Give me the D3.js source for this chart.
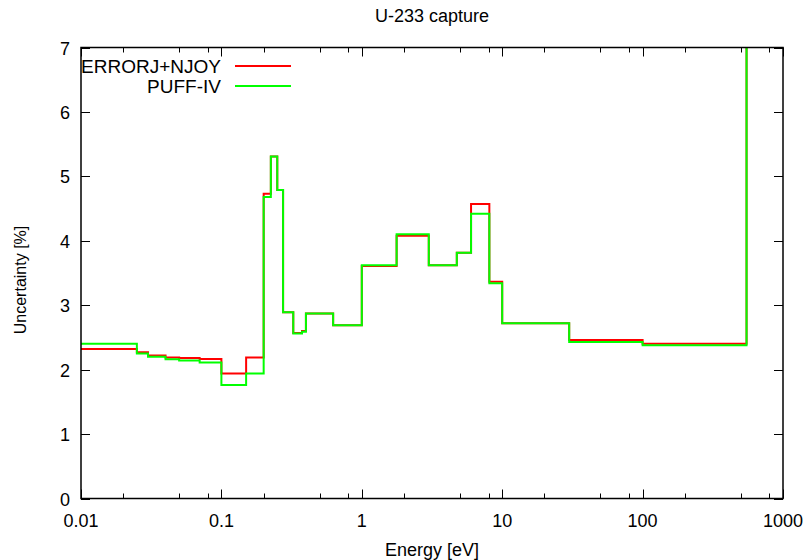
<!DOCTYPE html>
<html>
<head>
<meta charset="utf-8">
<script src="https://d3js.org/d3.v7.min.js"></script>
<style>
  body { margin: 0; background: #fff; }
  svg { font-family: "Liberation Sans", Arial, sans-serif; }
</style>
</head>
<body>
<svg id="chart1" width="809" height="560"></svg>
<script>
  // group boundaries (eV) and uncertainties (%) per group
  var energyBounds = [0.01, 0.025, 0.03, 0.04, 0.05, 0.07, 0.1, 0.15, 0.2, 0.225, 0.25, 0.275,
                      0.325, 0.375, 0.4, 0.625, 1.0, 1.77, 3.0, 4.75, 6.0, 8.1, 10, 30, 100, 550, 1000];
  var errorjNjoy = [2.32, 2.27, 2.22, 2.19, 2.18, 2.165, 1.94, 2.19, 4.73, 5.31, 4.79, 2.89, 2.57,
                    2.60, 2.87, 2.69, 3.61, 4.08, 3.62, 3.815, 4.57, 3.365, 2.72, 2.46, 2.40, 25];
  var puffIV = [2.40, 2.25, 2.20, 2.16, 2.14, 2.11, 1.76, 1.94, 4.68, 5.31, 4.79, 2.89, 2.56,
                2.59, 2.87, 2.69, 3.62, 4.10, 3.62, 3.815, 4.42, 3.34, 2.72, 2.43, 2.38, 25];
  var xTicks = [0.01, 0.1, 1, 10, 100, 1000];
  var xTickLabels = ["0.01", "0.1", "1", "10", "100", "1000"];
  var yTicks = [0, 1, 2, 3, 4, 5, 6, 7];
  var seriesNames = ["ERRORJ+NJOY", "PUFF-IV"];
  var seriesColors = ["#ff0000", "#00ff00"];

  var pLeft = 81, pRight = 783, pTop = 47.5, pBottom = 498.5;
  var fs = 18;

  var x = d3.scaleLog().domain([0.01, 1000]).range([pLeft, pRight]);
  var y = d3.scaleLinear().domain([0, 7]).range([pBottom, pTop]);

  var svg = d3.select("#chart1");

  svg.append("defs").append("clipPath").attr("id", "clip")
    .append("rect").attr("x", pLeft).attr("y", pTop)
    .attr("width", pRight - pLeft).attr("height", pBottom - pTop);

  // minor ticks at 2,5,8 of each decade
  var minor = [];
  xTicks.slice(0, -1).forEach(function(d) {
    [2, 5, 8].forEach(function(m) { minor.push(d * m); });
  });

  var ticks = svg.append("g").attr("stroke", "#000").attr("stroke-width", 1);
  xTicks.forEach(function(t) {
    var px = Math.round(x(t)) + 0.5;
    ticks.append("line").attr("x1", px).attr("x2", px).attr("y1", pBottom).attr("y2", pBottom - 9);
    ticks.append("line").attr("x1", px).attr("x2", px).attr("y1", pTop).attr("y2", pTop + 9);
  });
  minor.forEach(function(t) {
    var px = Math.round(x(t)) + 0.5;
    ticks.append("line").attr("x1", px).attr("x2", px).attr("y1", pBottom).attr("y2", pBottom - 5);
    ticks.append("line").attr("x1", px).attr("x2", px).attr("y1", pTop).attr("y2", pTop + 5);
  });
  yTicks.forEach(function(t) {
    var py = Math.round(y(t)) + 0.5;
    ticks.append("line").attr("x1", pLeft).attr("x2", pLeft + 9).attr("y1", py).attr("y2", py);
    ticks.append("line").attr("x1", pRight).attr("x2", pRight - 9).attr("y1", py).attr("y2", py);
  });

  // tick labels
  svg.append("g").selectAll("text").data(xTicks).enter().append("text")
    .attr("x", function(d) { return x(d); })
    .attr("y", 527)
    .attr("text-anchor", "middle")
    .style("font-size", fs + "px")
    .text(function(d, i) { return xTickLabels[i]; });

  svg.append("g").selectAll("text").data(yTicks).enter().append("text")
    .attr("x", 70)
    .attr("y", function(d) { return y(d) + 7; })
    .attr("text-anchor", "end")
    .style("font-size", fs + "px")
    .text(function(d) { return d; });

  // series as step lines
  var line = d3.line()
    .curve(d3.curveStepAfter)
    .x(function(d) { return x(d[0]); })
    .y(function(d) { return y(d[1]); });

  [errorjNjoy, puffIV].forEach(function(vals, k) {
    var pts = vals.map(function(v, i) { return [energyBounds[i], v]; });
    pts.push([energyBounds[energyBounds.length - 1], vals[vals.length - 1]]);
    svg.append("path")
      .datum(pts)
      .attr("clip-path", "url(#clip)")
      .attr("fill", "none")
      .attr("stroke", seriesColors[k])
      .attr("stroke-width", 2)
      .attr("d", line);
  });

  // border
  svg.append("rect")
    .attr("x", pLeft).attr("y", pTop)
    .attr("width", pRight - pLeft).attr("height", pBottom - pTop)
    .attr("fill", "none").attr("stroke", "#000").attr("stroke-width", 1.5);

  // legend
  seriesNames.forEach(function(n, i) {
    var ly = 66 + i * 20;
    svg.append("text")
      .attr("x", 221).attr("y", ly + 7)
      .attr("text-anchor", "end")
      .style("font-size", "19px")
      .text(n);
    svg.append("line")
      .attr("x1", 235).attr("x2", 291).attr("y1", ly).attr("y2", ly)
      .attr("stroke", seriesColors[i]).attr("stroke-width", 2);
  });

  // titles
  svg.append("text")
    .attr("x", 432).attr("y", 22)
    .attr("text-anchor", "middle")
    .style("font-size", fs + "px")
    .text("U-233 capture");

  svg.append("text")
    .attr("x", 432).attr("y", 556)
    .attr("text-anchor", "middle")
    .style("font-size", fs + "px")
    .text("Energy [eV]");

  svg.append("text")
    .attr("transform", "translate(26,280) rotate(-90)")
    .attr("text-anchor", "middle")
    .style("font-size", "16px")
    .text("Uncertainty [%]");
</script>
</body>
</html>
